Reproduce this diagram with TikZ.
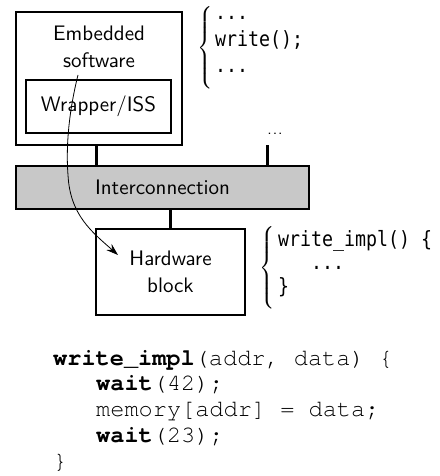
\documentclass[tikz,border=0pt]{standalone}
\usepackage{exscale}
\usepackage{fontspec}
\newfontfamily\codemono{texgyrecursor}[Extension=.otf, UprightFont=*-regular, BoldFont=*-bold]
\newfontfamily\sansmono{DejaVu Sans Mono}[FakeStretch=0.87]
\newfontfamily\lmsten{lmsans10-regular.otf}
\usetikzlibrary{arrows.meta}
\definecolor{busgray}{RGB}{200,200,200}
\begin{document}
\begin{tikzpicture}[x=1pt,y=-1pt,
  box/.style={draw, line width=1.2pt, inner sep=0pt},
  lbl/.style={font=\lmsten\fontsize{21}{26.5}\selectfont, align=center, inner sep=0pt},
  stub/.style={line width=3pt},
  smono/.style={font=\sansmono\fontsize{21}{22}\selectfont, anchor=base west, inner sep=0pt},
  code/.style={font=\codemono\fontsize{23.6}{26}\selectfont, anchor=base west, inner sep=0pt},
  bracenode/.style={inner sep=0pt, anchor=west, font=\fontsize{16}{16}\selectfont},
  flow/.style={line width=0.8pt, -{Stealth[length=12pt,width=8pt]}}]
\useasboundingbox (0,0) rectangle (439,476);
% boxes
\node[box, minimum width=166pt, minimum height=133pt] (emb) at (99,78.5) {};
\node[lbl] (embtxt) at (99,47) {Embedded\\software};
\node[box, minimum width=145pt, minimum height=53pt, lbl] (wrap) at (98.5,106.5) {Wrapper/ISS};
\node[box, fill=busgray, minimum width=293pt, minimum height=43pt, lbl] (bus) at (162.5,187.5) {Interconnection};
\node[box, minimum width=149pt, minimum height=86pt, lbl] (hw) at (170.5,272) {Hardware\\block};
% stubs
\draw[stub] ([xshift=-3pt]emb.south) -- ([xshift=-3pt]emb.south |- bus.north);
\coordinate (s2) at (267,145);
\node[font=\lmsten\fontsize{16}{16}\selectfont, inner sep=0pt, anchor=base] (dots) at (275,134) {.\kern1pt.\kern1pt.};
\draw[stub] (s2) -- (s2 |- bus.north);
\draw[stub] (bus.south -| hw.north) -- (hw.north);
% top brace
\node[bracenode] (br1) at (197,48) {$\left\{\rule[-37pt]{0pt}{74pt}\right.$};
\node[smono] (t1) at (215,20) {...};
\node[smono] (t2) at (215,47) {write();};
\node[smono] (t3) at (215,73) {...};
% second brace
\node[bracenode] (br2) at (259,268) {$\left\{\rule[-36pt]{0pt}{72pt}\right.$};
\node[smono] (u1) at (278,246) {write\_impl() \{};
\node[smono] (u2) at (311,269) {...};
\node[smono] (u3) at (278,293) {\}};
% code
\node[code] (c1) at (53,365) {\textbf{write\_impl}(addr, data) \{};
\node[code] (c2) at (96,390.8) {\textbf{wait}(42);};
\node[code] (c3) at (96,416.6) {memory[addr] = data;};
\node[code] (c4) at (96,442.4) {\textbf{wait}(23);};
\node[code] (c5) at (53,468.2) {\}};
% call arrow
\coordinate (a0) at (78,75);
\coordinate (a1) at (118,255);
\draw[flow] (a0) .. controls (68,115) and (66,150) .. (68,175) .. controls (70,215) and (92,232) .. (a1);
\end{tikzpicture}
\end{document}
